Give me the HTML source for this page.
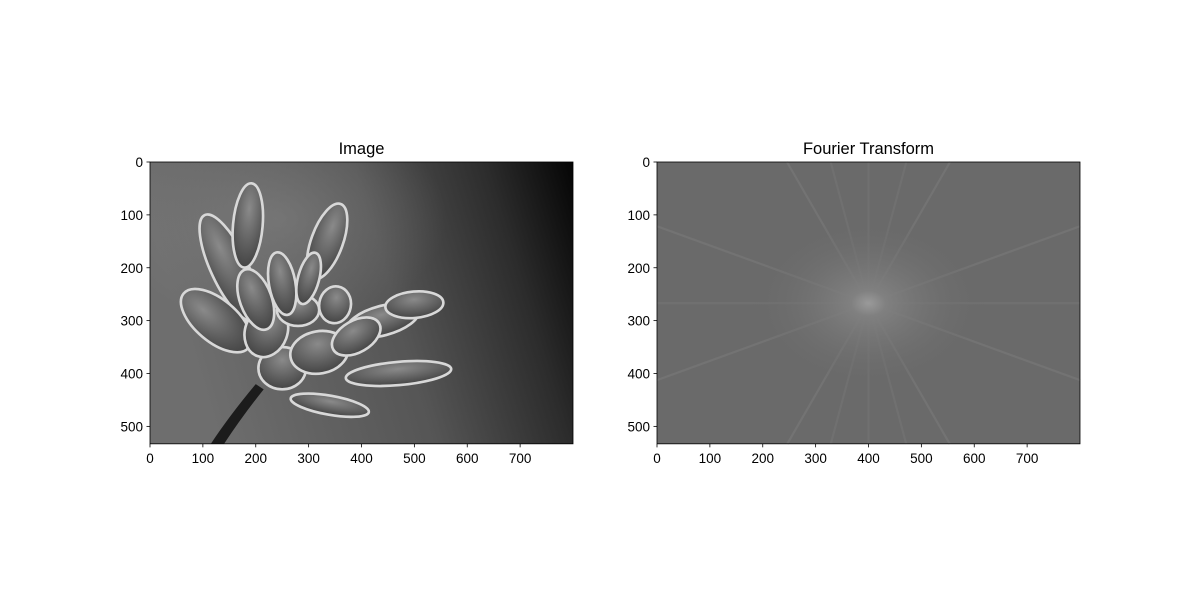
<!DOCTYPE html>
<html><head><meta charset="utf-8"><style>
html,body{margin:0;background:#fff;width:1200px;height:600px;overflow:hidden;}
svg{display:block;font-family:"Liberation Sans","DejaVu Sans",sans-serif;}
</style></head><body>
<svg id="fig" width="1200" height="600" viewBox="0 0 1200 600">
<defs>
<linearGradient id="bgL" x1="0" y1="0.2" x2="1" y2="0">
<stop offset="0" stop-color="#6e6e6e"/><stop offset="0.5" stop-color="#555"/><stop offset="0.8" stop-color="#2c2c2c"/><stop offset="1" stop-color="#050505"/>
</linearGradient>
<radialGradient id="glowL" cx="0.3" cy="0.2" r="0.4"><stop offset="0" stop-color="#8a8a8a" stop-opacity="0.5"/><stop offset="1" stop-color="#8a8a8a" stop-opacity="0"/></radialGradient>
<radialGradient id="petal" cx="0.5" cy="0.3" r="0.7"><stop offset="0" stop-color="#8a8a8a"/><stop offset="1" stop-color="#444"/></radialGradient>
<radialGradient id="fc" cx="0.5" cy="0.5" r="0.5"><stop offset="0" stop-color="#9a9a9a"/><stop offset="0.15" stop-color="#808080"/><stop offset="1" stop-color="#6a6a6a" stop-opacity="0"/></radialGradient>
</defs>
<g id="axL"></g>
<g id="axR"></g>
</svg>
<script>
const xTicks=[0,100,200,300,400,500,600,700];
const yTicks=[0,100,200,300,400,500];
const imgW=800, imgH=533;
const titles=["Image","Fourier Transform"];
const axLeft=[150,657], axTop=162, axW=423;
const s=axW/imgW, axH=imgH*s;
const NS="http://www.w3.org/2000/svg";
function el(t,a,p){const e=document.createElementNS(NS,t);for(const k in a)e.setAttribute(k,a[k]);p.appendChild(e);return e;}
function drawFlower(g){
 el('rect',{x:0,y:0,width:imgW,height:imgH,fill:'url(#bgL)'},g);
 el('rect',{x:0,y:0,width:imgW,height:imgH,fill:'url(#glowL)'},g);
 el('path',{d:'M200 420 Q150 480 115 533 L140 533 Q175 480 215 430Z',fill:'#1c1c1c'},g);
 const petals=[[150,200,35,110,-25],[185,120,28,80,5],[335,150,30,75,20],[125,300,40,80,-50],[440,300,70,28,-15],[500,270,55,25,-5],[470,400,100,22,-5],[340,460,75,18,10],[250,390,45,40,0],[320,360,55,40,-10],[390,330,50,30,-30],[220,320,40,50,20],[280,280,40,30,0],[350,270,30,35,10],[250,230,25,60,-10],[300,220,20,50,15],[200,260,30,60,-20]];
 petals.forEach(p=>{el('ellipse',{cx:p[0],cy:p[1],rx:p[2],ry:p[3],transform:`rotate(${p[4]} ${p[0]} ${p[1]})`,fill:'url(#petal)',stroke:'#d8d8d8','stroke-width':5},g);});
}
function rayEnd(cx,cy,dx,dy){
 let t=1e9;
 if(dx>0)t=Math.min(t,(imgW-cx)/dx); if(dx<0)t=Math.min(t,-cx/dx);
 if(dy>0)t=Math.min(t,(imgH-cy)/dy); if(dy<0)t=Math.min(t,-cy/dy);
 return [cx+dx*t,cy+dy*t];
}
function drawFourier(g){
 el('rect',{x:0,y:0,width:imgW,height:imgH,fill:'#6a6a6a'},g);
 const cx=400,cy=267;
 const angles=[0,90,20,-20,60,-60,120,-120,160,200,75,105];
 angles.forEach(a=>{const rad=a*Math.PI/180,dx=Math.cos(rad),dy=Math.sin(rad);
  const p1=rayEnd(cx,cy,dx,dy),p2=rayEnd(cx,cy,-dx,-dy);
  el('line',{x1:p2[0],y1:p2[1],x2:p1[0],y2:p1[1],stroke:'#787878','stroke-width':4,opacity:0.45},g);});
 el('ellipse',{cx:cx,cy:cy,rx:220,ry:160,fill:'url(#fc)'},g);
}
[0,1].forEach(i=>{
 const ax=document.getElementById(i?'axR':'axL');
 const x0=axLeft[i];
 const img=el('g',{transform:`translate(${x0},${axTop}) scale(${s})`},ax);
 
 
 i?drawFourier(img):drawFlower(img);
 el('rect',{x:x0,y:axTop,width:axW,height:axH,fill:'none',stroke:'#000','stroke-width':0.8},ax);
 const t=el('text',{x:x0+axW/2,y:axTop-8,'text-anchor':'middle','font-size':16.5},ax);t.textContent=titles[i];
 
 xTicks.forEach(v=>{const x=x0+v*s;
  el('line',{x1:x,y1:axTop+axH,x2:x,y2:axTop+axH+3.5,stroke:'#000','stroke-width':0.8},ax);
  const l=el('text',{x:x,y:axTop+axH+19,'text-anchor':'middle','font-size':13.5},ax);l.textContent=v;
  });
 yTicks.forEach(v=>{const y=axTop+v*s;
  el('line',{x1:x0-3.5,y1:y,x2:x0,y2:y,stroke:'#000','stroke-width':0.8},ax);
  const l=el('text',{x:x0-7,y:y+5,'text-anchor':'end','font-size':13.5},ax);l.textContent=v;
  });
});
</script>
</body></html>
